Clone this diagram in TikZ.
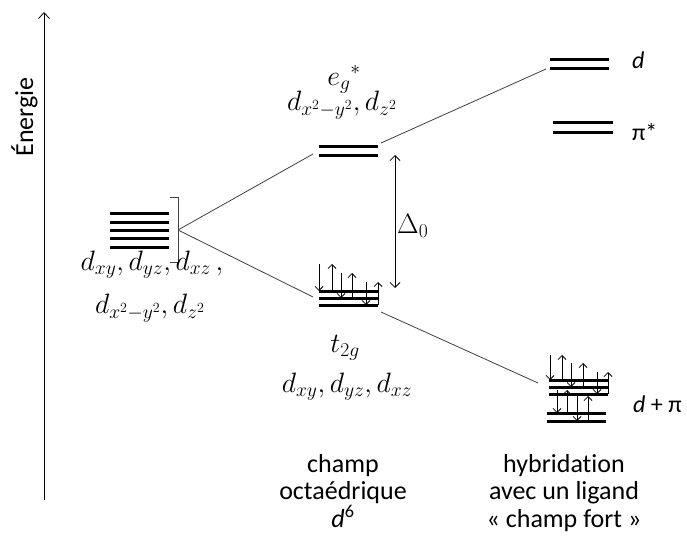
\RequirePackage{fix-cm}
\documentclass[tikz,border=0pt]{standalone}
\usepackage[no-math]{fontspec}
\setmainfont[Ligatures=NoCommon]{Carlito}
\usetikzlibrary{arrows.meta}
\begin{document}
\begin{tikzpicture}[x=1pt,y=-1pt,
  lvl/.style={line width=3pt},
  conn/.style={line width=0.8pt, draw=black!75},
  el/.style={line width=0.8pt, -{Straight Barb[length=4pt,width=8pt]}},
  txt/.style={font=\fontsize{26}{29}\selectfont, inner sep=0pt, anchor=base},
  sml/.style={font=\fontsize{24}{28}\selectfont, inner sep=0pt, anchor=base west},
  mth/.style={font=\fontsize{28}{32}\selectfont, inner sep=0pt, anchor=base}]
\useasboundingbox (0,0) rectangle (687,535);
% axis
\coordinate (axb) at (44,500);
\coordinate (axt) at (44,12);
\draw[line width=0.8pt, -{Straight Barb[length=6pt,width=11pt]}] (axb) -- (axt);
\node[txt, rotate=90] (en) at (33,117) {Énergie};
% left degenerate d levels
\foreach \y in {213,222,230,238,247} \draw[lvl] (110,\y) -- (169,\y);
\draw[conn] (170,197) -- (178,197) -- (178,262) -- (170,262);
\coordinate (br) at (178,230);
% e_g levels
\foreach \y in {146,155} \draw[lvl] (319,\y) -- (378,\y);
\coordinate (egL) at (313,154);
\coordinate (egR) at (381,143);
% t2g levels
\foreach \y in {291,298,305} \draw[lvl] (319,\y) -- (378,\y);
\coordinate (tL) at (313,297);
\coordinate (tR) at (381,312);
% d and pi* levels
\foreach \y in {59,68} \draw[lvl] (550,\y) -- (609,\y);
\foreach \y in {122,132} \draw[lvl] (553,\y) -- (613,\y);
\coordinate (dL) at (546,69);
% d+pi levels
\foreach \y in {380,387,394} \draw[lvl] (549,\y) -- (608,\y);
\foreach \y in {413,421} \draw[lvl] (547,\y) -- (606,\y);
\coordinate (dpL) at (538,383);
% connectors
\draw[conn] (br) -- (egL);
\draw[conn] (br) -- (tL);
\draw[conn] (egR) -- (dL);
\draw[conn] (tR) -- (dpL);
% Delta0
\coordinate (da) at (395,155);
\coordinate (db) at (395,288);
\draw[line width=0.8pt, {Straight Barb[length=5pt,width=10pt]}-{Straight Barb[length=5pt,width=10pt]}] (da) -- (db);
\node[mth, anchor=base west] (delta) at (397,233) {$\Delta_0$};
% t2g electrons
\draw[el] (319,264) -- (319,291);
\draw[el] (332,291) -- (332,264);
\draw[el] (341,273) -- (341,298);
\draw[el] (352,298) -- (352,273);
\draw[el] (366,282) -- (366,305);
\draw[el] (378,305) -- (378,282);
% d+pi electrons
\draw[el] (550,355) -- (550,380);
\draw[el] (562,380) -- (562,355);
\draw[el] (571,363) -- (571,387);
\draw[el] (583,387) -- (583,363);
\draw[el] (597,372) -- (597,394);
\draw[el] (608,394) -- (608,372);
\draw[el] (557,390) -- (557,413);
\draw[el] (567,413) -- (567,390);
\draw[el] (577,396) -- (577,421);
\draw[el] (588,421) -- (588,396);
% labels
\node[sml] (ld) at (632,68) {\textit{d}};
\node[sml] (lpi) at (632,140) {π*};
\node[sml] (ldp) at (633,412) {\textit{d} + π};
\node[mth] (eg) at (344,85) {$e_g{}^{*}$};
\node[mth] (egd) at (342,110) {$d_{x^2-y^2}, d_{z^2}$};
\node[mth] (l1) at (152,270) {$d_{xy}, d_{yz}, d_{xz}\,,$};
\node[mth] (l2) at (150,313) {$d_{x^2-y^2}, d_{z^2}$};
\node[mth] (t2g) at (345,352) {$t_{2g}$};
\node[mth] (t2gd) at (347,392) {$d_{xy}, d_{yz}, d_{xz}$};
\node[txt] (c1) at (343,472) {champ};
\node[txt] (c2) at (343,499) {octaédrique};
\node[txt] (c3) at (343,527) {\textit{d}\textsuperscript{6}};
\node[txt] (h1) at (564,472) {hybridation};
\node[txt] (h2) at (564,499) {avec un ligand};
\node[txt] (h3) at (564,527) {« champ fort »};
\end{tikzpicture}
\end{document}
